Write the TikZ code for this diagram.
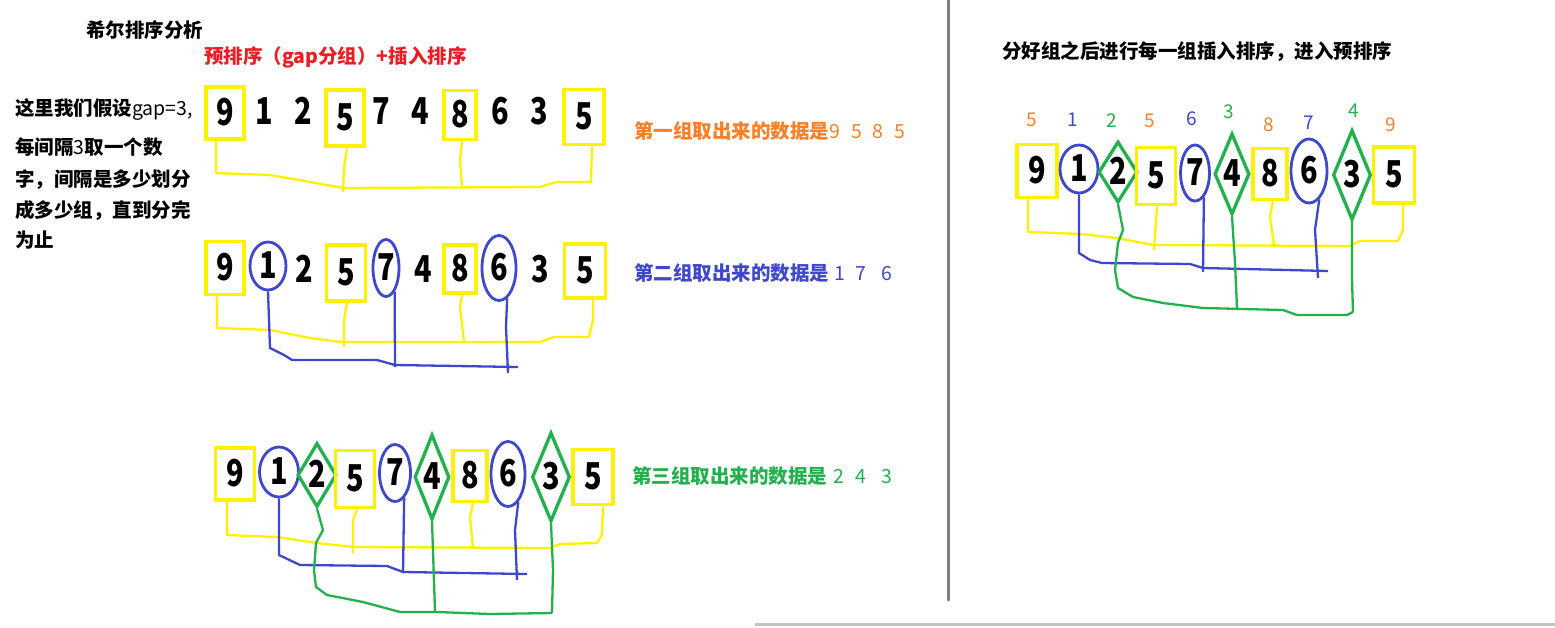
\documentclass[tikz,border=0pt]{standalone}
\usepackage{fontspec}
\setmainfont{Noto Sans CJK SC}
\usetikzlibrary{shapes.geometric}
\definecolor{pyel}{RGB}{255,242,0}
\definecolor{pblue}{RGB}{63,72,204}
\definecolor{pgreen}{RGB}{34,177,76}
\definecolor{porange}{RGB}{255,127,39}
\definecolor{pred}{RGB}{237,28,36}
\definecolor{pgrey}{RGB}{128,128,128}
\definecolor{plgrey}{RGB}{195,195,195}
\newcommand\dg[1]{{\fontsize{37}{37}\selectfont\bfseries\makebox[0pt]{\raisebox{-0.33em}[0pt][0pt]{\scalebox{0.78}[1]{#1}}}}}
\tikzset{
  ybox/.style={draw=pyel, line width=3.8pt, rectangle, inner sep=0pt},
  bell/.style={draw=pblue, line width=2.8pt, ellipse, inner sep=0pt},
  gdia/.style={draw=pgreen, line width=3.3pt, diamond, inner sep=0pt},
  dig/.style={inner sep=0pt},
  yl/.style={draw=pyel, line width=2.3pt, line join=round},
  bl/.style={draw=pblue, line width=2.3pt, line join=round},
  gl/.style={draw=pgreen, line width=2.3pt, line join=round},
  txt/.style={font=\fontsize{19.5}{23}\selectfont\bfseries, inner sep=0pt, anchor=west},
  lab/.style={font=\fontsize{19}{19}\selectfont, inner sep=0pt},
}
\begin{document}
\begin{tikzpicture}[x=1pt,y=-1pt]
\useasboundingbox (0,0) rectangle (1555,627);
\fill[white] (0,0) rectangle (1555,627);
% separators
\coordinate (v1) at (948,0); \coordinate (v2) at (948,600);
\coordinate (h1) at (755,624); \coordinate (h2) at (1555,624);
\draw[pgrey, line width=3pt, line cap=round] (v1) -- (v2);
\draw[plgrey, line width=3pt] (h1) -- (h2);
% texts
\node[txt] (title) at (86,30) {希尔排序分析};
\node[txt, text=pred] (sub) at (204,57) {预排序（gap分组）+插入排序};
\node[txt] (l1) at (15,110) {这里我们假设{\mdseries gap=3,}};
\node[txt] (l2) at (15,147) {每间隔{\mdseries 3}取一个数};
\node[txt] (l3) at (15,180) {字，间隔是多少划分};
\node[txt] (l4) at (15,211) {成多少组，直到分完};
\node[txt] (l5) at (15,240) {为止};
\node[txt, text=porange] (g1) at (634,131) {第一组取出来的数据是{\mdseries 9\hspace{11pt}5\hspace{11pt}8\hspace{11pt}5}};
\node[txt, text=pblue] (g2) at (634,273) {第二组取出来的数据是{\mdseries\hspace{5pt}1\hspace{10pt}7\hspace{16pt}6}};
\node[txt, text=pgreen] (g3) at (632,476) {第三组取出来的数据是{\mdseries\hspace{6pt}2\hspace{11pt}4\hspace{16pt}3}};
\node[txt] (rt) at (1002,52) {分好组之后进行每一组插入排序，进入预排序};
% row 1
\node[ybox, minimum width=38pt, minimum height=52pt] (r1a) at (225,113) {\dg{9}};
\node[dig] (r1b) at (264,112) {\dg{1}};
\node[dig] (r1c) at (303,112) {\dg{2}};
\node[ybox, minimum width=38pt, minimum height=56pt] (r1d) at (345,118) {\dg{5}};
\node[dig] (r1e) at (381,112) {\dg{7}};
\node[dig] (r1f) at (420,112) {\dg{4}};
\node[ybox, minimum width=32pt, minimum height=49pt] (r1g) at (460,115) {\dg{8}};
\node[dig] (r1h) at (500,112) {\dg{6}};
\node[dig] (r1i) at (539,112) {\dg{3}};
\node[ybox, minimum width=40pt, minimum height=55pt] (r1j) at (584,117) {\dg{5}};
\draw[yl] ([xshift=-9pt]r1a.south) -- (216,173) -- (270,175) -- (310,182) -- (343,188) -- (540,187) -- (556,182) -- (591,182) -- ([xshift=8pt]r1j.south);
\draw[yl] ([xshift=2pt]r1d.south) -- (344,168) -- (343,192);
\draw[yl] ([xshift=2pt]r1g.south) -- (460,160) -- (462,187);
% row 2
\node[ybox, minimum width=38pt, minimum height=53pt] (r2a) at (225,268) {\dg{9}};
\node[bell, minimum width=36pt, minimum height=48pt] (r2b) at (268,266) {\dg{1}};
\node[dig] (r2c) at (304,270) {\dg{2}};
\node[ybox, minimum width=39pt, minimum height=56pt] (r2d) at (346,273) {\dg{5}};
\node[bell, minimum width=26pt, minimum height=57pt] (r2e) at (386,268) {\dg{7}};
\node[dig] (r2f) at (423,270) {\dg{4}};
\node[ybox, minimum width=32pt, minimum height=48pt] (r2g) at (460,269) {\dg{8}};
\node[bell, minimum width=34pt, minimum height=65pt] (r2h) at (499,268) {\dg{6}};
\node[dig] (r2i) at (540,270) {\dg{3}};
\node[ybox, minimum width=41pt, minimum height=54pt] (r2j) at (585,271) {\dg{5}};
\draw[yl] ([xshift=-8pt]r2a.south) -- (217,328) -- (270,330) -- (310,338) -- (341,342) -- (540,342) -- (554,337) -- (589,337) -- (593,320) -- ([xshift=8pt]r2j.south);
\draw[yl] ([xshift=1pt]r2d.south) -- (344,320) -- (344,347);
\draw[yl] ([xshift=2pt]r2g.south) -- (460,307) -- (464,342);
\draw[bl] (r2b.south) -- (270,348) -- (284,355) -- (292,360) -- (377,360) -- (395,365) -- (518,367);
\draw[bl] (r2e.-70) -- (395,367);
\draw[bl] (r2h.-75) -- (506,327) -- (508,373);
% row 3
\node[ybox, minimum width=39pt, minimum height=52pt] (r3a) at (235,474) {\dg{9}};
\node[bell, minimum width=39pt, minimum height=50pt] (r3b) at (279,472) {\dg{1}};
\node[gdia, minimum width=39pt, minimum height=64pt] (r3c) at (317,475) {\dg{2}};
\node[ybox, minimum width=39pt, minimum height=57pt] (r3d) at (355,479) {\dg{5}};
\node[bell, minimum width=31pt, minimum height=57pt] (r3e) at (395,473) {\dg{7}};
\node[gdia, minimum width=35pt, minimum height=85pt] (r3f) at (432,477) {\dg{4}};
\node[ybox, minimum width=34pt, minimum height=51pt] (r3g) at (470,476) {\dg{8}};
\node[bell, minimum width=34pt, minimum height=65pt] (r3h) at (508,474) {\dg{6}};
\node[gdia, minimum width=38pt, minimum height=89pt] (r3i) at (551,477) {\dg{3}};
\node[ybox, minimum width=40pt, minimum height=55pt] (r3j) at (593,477) {\dg{5}};
\draw[yl] ([xshift=-8pt]r3a.south) -- (227,535) -- (277,537) -- (317,543) -- (353,547) -- (550,548) -- (560,544) -- (597,543) -- (602,535) -- ([xshift=10pt]r3j.south);
\draw[yl] ([xshift=2pt]r3d.south) -- (353,520) -- (353,553);
\draw[yl] ([xshift=3pt]r3g.south) -- (470,517) -- (473,548);
\draw[bl] (r3b.south) -- (279,520) -- (279,555) -- (300,565) -- (387,566) -- (403,572) -- (527,574);
\draw[bl] (r3e.-70) -- (403,573);
\draw[bl] (r3h.-70) -- (515,530) -- (517,580);
\draw[gl] (r3c.south) -- (323,530) -- (316,543) -- (314,570) -- (316,587) -- (327,595) -- (363,602) -- (400,612) -- (437,612) -- (490,614) -- (552,613);
\draw[gl] (r3f.south) -- (435,612);
\draw[gl] (r3i.south) -- (553,570) -- (552,613);
% right panel
\node[ybox, minimum width=40pt, minimum height=53pt] (Ra) at (1037,171) {\dg{9}};
\node[bell, minimum width=38pt, minimum height=48pt] (Rb) at (1079,169) {\dg{1}};
\node[gdia, minimum width=39pt, minimum height=61pt] (Rc) at (1118,172) {\dg{2}};
\node[ybox, minimum width=39pt, minimum height=57pt] (Rd) at (1156,176) {\dg{5}};
\node[bell, minimum width=29pt, minimum height=56pt] (Re) at (1195,173) {\dg{7}};
\node[gdia, minimum width=35pt, minimum height=81pt] (Rf) at (1232,174) {\dg{4}};
\node[ybox, minimum width=34pt, minimum height=51pt] (Rg) at (1270,174) {\dg{8}};
\node[bell, minimum width=36pt, minimum height=64pt] (Rh) at (1309,171) {\dg{6}};
\node[gdia, minimum width=38pt, minimum height=90pt] (Ri) at (1352,175) {\dg{3}};
\node[ybox, minimum width=41pt, minimum height=56pt] (Rj) at (1394,175) {\dg{5}};
\node[lab, text=porange] (La) at (1032,120) {5};
\node[lab, text=pblue] (Lb) at (1073,120) {1};
\node[lab, text=pgreen] (Lc) at (1112,121) {2};
\node[lab, text=porange] (Ld) at (1150,121) {5};
\node[lab, text=pblue] (Le) at (1192,119) {6};
\node[lab, text=pgreen] (Lf) at (1229,112) {3};
\node[lab, text=porange] (Lg) at (1269,125) {8};
\node[lab, text=pblue] (Lh) at (1309,123) {7};
\node[lab, text=pgreen] (Li) at (1354,111) {4};
\node[lab, text=porange] (Lj) at (1391,125) {9};
\draw[yl] ([xshift=-9pt]Ra.south) -- (1028,232) -- (1080,234) -- (1117,238) -- (1153,245) -- (1350,246) -- (1360,241) -- (1398,241) -- (1403,230) -- ([xshift=9pt]Rj.south);
\draw[yl] ([xshift=1pt]Rd.south) -- (1154,250);
\draw[yl] ([xshift=3pt]Rg.south) -- (1270,217) -- (1274,245);
\draw[bl] (Rb.south) -- (1079,253) -- (1090,260) -- (1102,263) -- (1190,264) -- (1203,268) -- (1328,271);
\draw[bl] (Re.-70) -- (1203,272);
\draw[bl] (Rh.-70) -- (1315,230) -- (1318,278);
\draw[gl] (Rc.south) -- (1123,230) -- (1118,243) -- (1115,270) -- (1118,288) -- (1133,297) -- (1163,303) -- (1203,308) -- (1283,310) -- (1297,315) -- (1347,315) -- (1353,312);
\draw[gl] (Rf.south) -- (1235,263) -- (1237,308);
\draw[gl] (Ri.south) -- (1352,280) -- (1353,312);
\end{tikzpicture}
\end{document}
